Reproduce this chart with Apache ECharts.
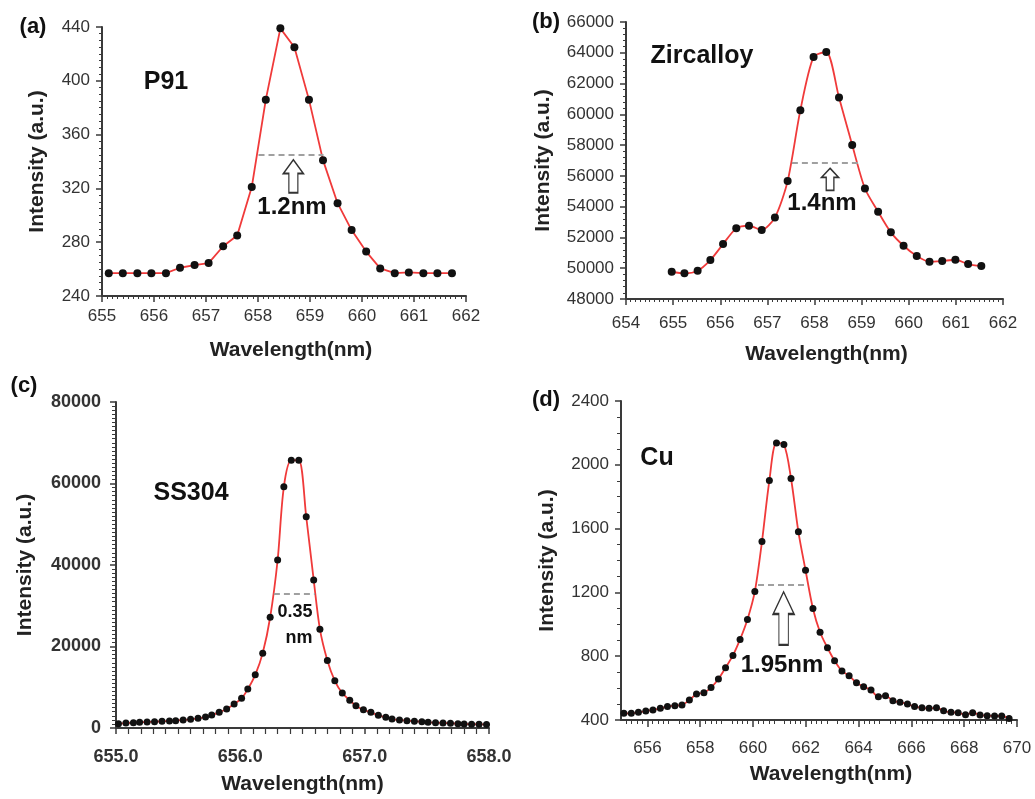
<!DOCTYPE html>
<html><head><meta charset="utf-8">
<script src="https://cdn.jsdelivr.net/npm/echarts@6/dist/echarts.min.js"></script>
<style>html,body{margin:0;padding:0;background:#fff}#c{width:1035px;height:799px}</style>
</head><body><div id="c"></div>
<script>
// ---- data ----
const aX = [655.13,655.40,655.68,655.95,656.23,656.50,656.78,657.05,657.33,657.60,657.88,658.15,658.43,658.70,658.98,659.25,659.53,659.80,660.08,660.35,660.63,660.90,661.18,661.45,661.73];
const aY = [257,257,257,257,257,261,263,264.5,277,285,321,386,439,425,386,341,309,289,273,260.5,257,257.5,257,257,257];
const bX = [654.97,655.24,655.52,655.79,656.06,656.34,656.61,656.88,657.16,657.43,657.70,657.98,658.25,658.52,658.80,659.07,659.35,659.62,659.89,660.17,660.44,660.71,660.99,661.26,661.54];
const bY = [49770,49670,49840,50530,51570,52590,52760,52480,53300,55660,60270,63730,64050,61090,58000,55180,53670,52330,51460,50790,50420,50470,50550,50270,50140];
const cX = [655.02,655.08,655.14,655.19,655.25,655.31,655.37,655.43,655.48,655.54,655.60,655.66,655.72,655.77,655.83,655.89,655.95,656.01,656.06,656.12,656.18,656.24,656.30,656.35,656.41,656.47,656.53,656.59,656.64,656.70,656.76,656.82,656.88,656.93,656.99,657.05,657.11,657.17,657.22,657.28,657.34,657.40,657.46,657.51,657.57,657.63,657.69,657.75,657.80,657.86,657.92,657.98];
const cY = [1060,1220,1310,1390,1470,1550,1630,1710,1800,1960,2120,2370,2690,3180,3840,4650,5880,7270,9550,13060,18370,27180,41220,59180,65710,65710,51840,36330,24240,16570,11590,8570,6780,5470,4490,3840,3100,2610,2200,1960,1800,1630,1550,1390,1310,1220,1140,1060,980,950,900,880];
const dX = [655.11,655.39,655.66,655.94,656.21,656.49,656.76,657.04,657.31,657.59,657.86,658.14,658.41,658.69,658.96,659.24,659.51,659.79,660.07,660.34,660.62,660.89,661.17,661.44,661.72,661.99,662.27,662.54,662.82,663.09,663.37,663.64,663.92,664.19,664.47,664.75,665.02,665.30,665.57,665.85,666.12,666.40,666.67,666.95,667.22,667.50,667.77,668.05,668.32,668.60,668.87,669.15,669.42,669.70];
const dY = [442,442,448,456,463,473,484,490,494,525,563,571,603,657,728,805,905,1030,1206,1519,1901,2137,2127,1914,1580,1339,1099,950,853,772,707,678,634,609,588,546,552,521,511,500,484,477,473,477,458,448,446,433,446,431,427,425,425,410];
const dXTicks = [656,658,660,662,664,666,668,670];
const samples = ['P91','Zircalloy','SS304','Cu'];
const panelTags = ['(a)','(b)','(c)','(d)'];
const fwhmLabels = ['1.2nm','1.4nm','0.35','nm','1.95nm'];
// half-maximum levels and extents [x1,x2,y]
const fwhmA = [658.01,659.26,345]; const fwhmB = [657.52,658.93,56850];
const fwhmC = [656.27,656.60,32900]; const fwhmD = [660.19,662.02,1250];
const arrowA = [658.68,329]; const arrowB = [658.33,55780]; const arrowD = [661.16,1037];

const FONT = 'Liberation Sans, Arial, sans-serif';
const AX = '#3a3a3a';
const RED = '#f03a3a';
const plain = v => String(v);
function zip(x,y){return x.map((v,i)=>[v,y[i]]);}
const arrowPath = 'path://M10,0 L20,10 L14.5,10 L14.5,24 L5.5,24 L5.5,10 L0,10 Z';

function xAxisCfg(i,o){
  return Object.assign({type:'value',gridIndex:i,name:'Wavelength(nm)',nameLocation:'middle',
    nameTextStyle:{fontFamily:FONT,fontWeight:'bold',fontSize:21,color:'#222'},
    axisLine:{show:true,onZero:false,lineStyle:{color:AX,width:2}},
    axisTick:{show:true,length:6,lineStyle:{color:AX,width:1.5}},
    minorTick:{show:true,splitNumber:10,length:3,lineStyle:{color:AX,width:1}},
    splitLine:{show:false},
    axisLabel:{fontFamily:FONT,fontSize:17,color:'#333',margin:12,formatter:plain}},o);
}
function yAxisCfg(i,o){
  return Object.assign({type:'value',gridIndex:i,name:'Intensity (a.u.)',nameLocation:'middle',
    nameTextStyle:{fontFamily:FONT,fontWeight:'bold',fontSize:21,color:'#222'},
    axisLine:{show:true,onZero:false,lineStyle:{color:AX,width:2}},
    axisTick:{show:true,length:6,lineStyle:{color:AX,width:1.5}},
    minorTick:{show:true,splitNumber:8,length:3,lineStyle:{color:AX,width:1}},
    splitLine:{show:false},
    axisLabel:{fontFamily:FONT,fontSize:17,color:'#333',margin:12,formatter:plain}},o);
}
function lineSeries(i,x,y,smooth,sym,f,arrow,arrowSize){
  const s = {type:'line',xAxisIndex:i,yAxisIndex:i,data:zip(x,y),smooth:smooth,
    symbol:'circle',symbolSize:sym,itemStyle:{color:'#111'},
    lineStyle:{color:RED,width:1.8},z:3,
    markLine:{silent:true,symbol:['none','none'],label:{show:false},
      lineStyle:{type:[6,4],color:'#a0a0a0',width:2},
      data:[[{coord:[f[0],f[2]]},{coord:[f[1],f[2]]}]]}};
  if(arrow){
    s.markPoint={silent:true,symbol:arrowPath,symbolSize:arrowSize,
      itemStyle:{color:'#fff',borderColor:'#333',borderWidth:1.5},label:{show:false},
      data:[{coord:arrow}]};
  }
  return s;
}
function txt(t,x,y,size,bold){
  return {type:'text',x:x,y:y,z:10,style:{text:t,fill:'#111',font:(bold?'bold ':'')+size+'px '+FONT,align:'center',verticalAlign:'middle'}};
}

const option = {
  animation:false,
  backgroundColor:'#fff',
  grid:[
    {left:102,top:27,width:364,height:269},
    {left:626,top:22,width:377,height:277},
    {left:116,top:402,width:373,height:326},
    {left:621,top:401,width:396,height:319}
  ],
  xAxis:[
    xAxisCfg(0,{min:655,max:662,interval:1,nameGap:44,nameTextStyle:{fontFamily:FONT,fontWeight:'bold',fontSize:21,color:'#222',padding:[0,0,0,14]}}),
    xAxisCfg(1,{min:654,max:662,interval:1,nameGap:45,axisLabel:{fontFamily:FONT,fontSize:17,color:'#333',margin:16,formatter:plain},nameTextStyle:{fontFamily:FONT,fontWeight:'bold',fontSize:21,color:'#222',padding:[0,0,0,24]}}),
    xAxisCfg(2,{min:655,max:658,interval:1,nameGap:46,axisLabel:{fontFamily:FONT,fontSize:18,fontWeight:'bold',color:'#333',margin:20,formatter:v=>v.toFixed(1)},axisTick:{show:true,length:6,lineStyle:{color:AX,width:1.5}},minorTick:{show:true,splitNumber:10,length:6,lineStyle:{color:AX,width:1.2}}}),
    xAxisCfg(3,{min:655,max:670,interval:1,nameGap:44,
      axisTick:{show:true,length:7,customValues:dXTicks,lineStyle:{color:AX,width:1.5}},
      minorTick:{show:true,splitNumber:5,length:4,lineStyle:{color:AX,width:1}},
      axisLabel:{fontFamily:FONT,fontSize:17,color:'#333',margin:20,customValues:dXTicks,formatter:plain},
      nameTextStyle:{fontFamily:FONT,fontWeight:'bold',fontSize:21,color:'#222',padding:[0,0,0,24]}})
  ],
  yAxis:[
    yAxisCfg(0,{min:240,max:440,interval:40,nameGap:54}),
    yAxisCfg(1,{min:48000,max:66000,interval:2000,nameGap:72,minorTick:{show:true,splitNumber:5,length:3,lineStyle:{color:AX,width:1}}}),
    yAxisCfg(2,{min:0,max:80000,interval:20000,nameGap:80,minorTick:{show:true,splitNumber:20,length:4,lineStyle:{color:AX,width:1}},axisLabel:{fontFamily:FONT,fontSize:18,fontWeight:'bold',color:'#333',margin:15,formatter:plain}}),
    yAxisCfg(3,{min:400,max:2400,interval:400,nameGap:63,minorTick:{show:true,splitNumber:4,length:4,lineStyle:{color:AX,width:1}}})
  ],
  series:[
    lineSeries(0,aX,aY,false,8,fwhmA,arrowA,[20,33]),
    lineSeries(1,bX,bY,0.25,8,fwhmB,arrowB,[17,22]),
    lineSeries(2,cX,cY,0.3,7,fwhmC,null,null),
    lineSeries(3,dX,dY,0.3,7,fwhmD,arrowD,[21,53])
  ],
  graphic:[
    txt(panelTags[0],33,27,22,true),
    txt(panelTags[1],546,22,22,true),
    txt(panelTags[2],24,386,22,true),
    txt(panelTags[3],546,400,22,true),
    txt(samples[0],166,82,25,true),
    txt(samples[1],702,56,25,true),
    txt(samples[2],191,493,25,true),
    txt(samples[3],657,458,25,true),
    txt(fwhmLabels[0],292,207,24,true),
    txt(fwhmLabels[1],822,203,24,true),
    txt(fwhmLabels[2],295,612,18,true),
    txt(fwhmLabels[3],299,638,18,true),
    txt(fwhmLabels[4],782,665,24,true)
  ]
};
const chart = echarts.init(document.getElementById('c'),null,{renderer:'canvas'});
chart.setOption(option);
</script>
</body></html>
